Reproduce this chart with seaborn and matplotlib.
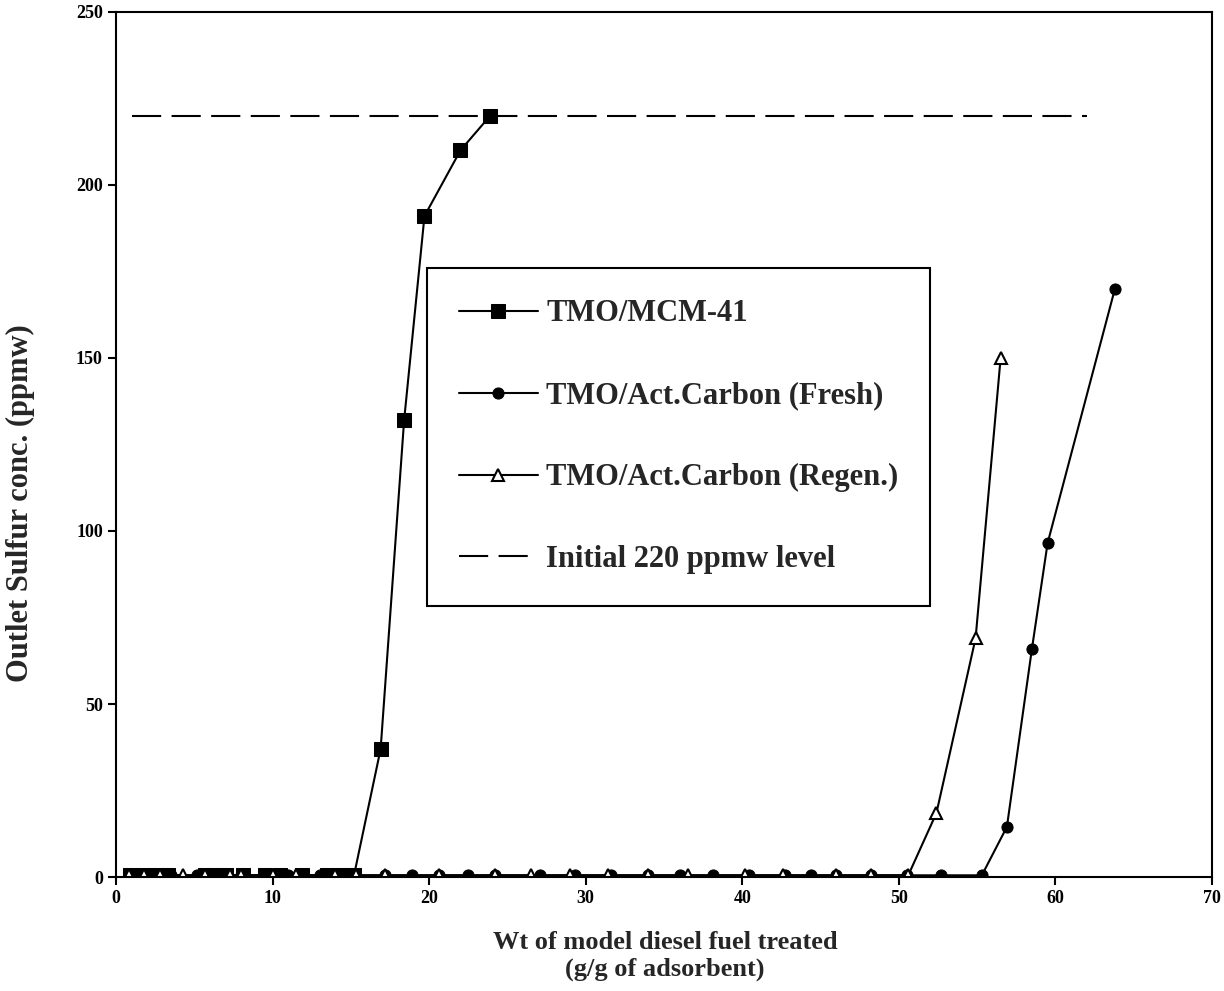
import pandas as pd
import matplotlib.pyplot as plt
import seaborn as sns

# data
mcm_x = [0.9, 1.7, 2.6, 3.3, 5.7, 6.2, 7.0, 8.1, 9.5, 10.5, 11.9, 13.5, 14.4, 15.2,
         16.9, 18.4, 19.7, 22.0, 23.9]
mcm_y = [0.5, 0.5, 0.5, 0.5, 0.5, 0.5, 0.5, 0.5, 0.5, 0.5, 0.5, 0.5, 0.5, 0.5,
         37, 132, 191, 210, 220]

fresh_x = [1.2, 2.4, 3.5, 5.2, 6.5, 8.0, 9.6, 11.0, 13.0, 14.8, 17.2, 18.9, 20.6, 22.5,
           24.2, 27.1, 29.3, 31.6, 34.0, 36.0, 38.1, 40.4, 42.7, 44.4, 46.0, 48.2,
           50.5, 52.7, 55.3, 56.9, 58.5, 59.5, 63.8]
fresh_y = [0.5] * 29 + [14.5, 66, 96.5, 170]

regen_x = [0.8, 1.8, 2.8, 4.3, 5.7, 7.3, 8.0, 10.0, 11.5, 14.0, 15.3, 17.2, 20.6, 24.2,
           26.5, 29.0, 31.4, 34.0, 36.5, 40.2, 42.6, 46.0, 48.2, 50.6, 52.4, 54.9, 56.5]
regen_y = [0.5] * 24 + [18.5, 69, 150]

init_x = [1.0, 62.0]
init_y = [220, 220]

sns.set_style("ticks")
plt.rcParams['font.family'] = ['Liberation Serif', 'DejaVu Serif']
plt.rcParams['font.weight'] = 'bold'

fig = plt.figure(figsize=(12.24, 9.91), dpi=100)
ax = fig.add_axes([0.0948, 0.115, 0.8954, 0.873])

sns.lineplot(x=mcm_x, y=mcm_y, ax=ax, color='black', lw=1.5, marker='s', markersize=10,
             markeredgecolor='black', markerfacecolor='black', label='TMO/MCM-41',
             sort=False, estimator=None)
sns.lineplot(x=fresh_x, y=fresh_y, ax=ax, color='black', lw=1.5, marker='o', markersize=8,
             markeredgecolor='black', markerfacecolor='black', label='TMO/Act.Carbon (Fresh)',
             sort=False, estimator=None)
sns.lineplot(x=regen_x, y=regen_y, ax=ax, color='black', lw=1.5, marker='^', markersize=9,
             markeredgecolor='black', markerfacecolor='white', markeredgewidth=1.5,
             label='TMO/Act.Carbon (Regen.)', sort=False, estimator=None)
sns.lineplot(x=init_x, y=init_y, ax=ax, color='black', lw=1.5, dashes=(14, 5),
             label='Initial 220 ppmw level', sort=False, estimator=None)

ax.set_xlim(0, 70)
ax.set_ylim(0, 250)
ax.set_xticks(range(0, 71, 10))
ax.set_yticks(range(0, 251, 50))
for s in ax.spines.values():
    s.set_visible(True)
    s.set_linewidth(1.5)
    s.set_color('black')
ax.tick_params(direction='out', length=6, width=1.5, labelsize=13, colors='black')
for t in ax.get_xticklabels() + ax.get_yticklabels():
    t.set_fontweight('bold')

ax.set_xlabel('Wt of model diesel fuel treated\n(g/g of adsorbent)', fontsize=19,
              fontweight='bold', linespacing=1.2)
ax.xaxis.set_label_coords(0.501, -0.062)
ax.set_ylabel('Outlet Sulfur conc. (ppmw)', fontsize=22, fontweight='bold')
ax.yaxis.set_label_coords(-0.074, 0.432)

leg = ax.legend(loc='upper left', bbox_to_anchor=(0.284, 0.704), borderaxespad=0,
                prop={'family': 'Liberation Serif', 'weight': 'bold', 'size': 22},
                frameon=True, fancybox=False, edgecolor='black', framealpha=1,
                handlelength=2.6, handletextpad=0.26,
                labelspacing=1.73, borderpad=1.03)
leg.get_frame().set_linewidth(1.5)

fig.savefig('out.png', dpi=100)
